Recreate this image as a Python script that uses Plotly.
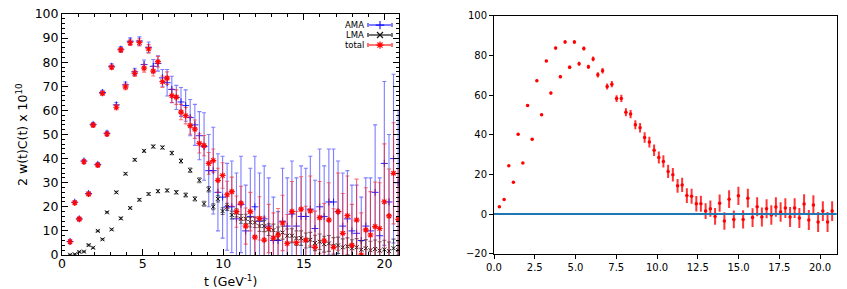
import plotly.graph_objects as go

# ---------------- data: left panel (AMA / LMA / total) ----------------
t_left = [0.50, 0.79, 1.07, 1.36, 1.65, 1.93, 2.22, 2.51, 2.79, 3.08, 3.37, 3.65,
          3.94, 4.23, 4.51, 4.80, 5.09, 5.37, 5.66, 5.95, 6.23, 6.52, 6.81, 7.09,
          7.38, 7.67, 7.95, 8.24, 8.52, 8.81, 9.10, 9.38, 9.67, 9.96, 10.24, 10.53,
          10.82, 11.10, 11.39, 11.68, 11.96, 12.25, 12.54, 12.82, 13.11, 13.40, 13.68, 13.97,
          14.26, 14.54, 14.83, 15.12, 15.40, 15.69, 15.98, 16.26, 16.55, 16.84, 17.12, 17.41,
          17.70, 17.98, 18.27, 18.56, 18.84, 19.13, 19.42, 19.70, 19.99, 20.28, 20.56, 20.85]

total_val = [5.5, 21.7, 14.9, 38.7, 25.3, 53.9, 37.3, 67.1, 50.2, 77.9, 61.3, 85.1,
             69.8, 88.1, 75.4, 88.2, 77.5, 85.5, 76.3, 80.2, 71.9, 73.4, 66.1, 65.5,
             59.3, 57.8, 53.7, 52.2, 46.3, 45.4, 38.0, 39.2, 31.0, 33.0, 25.0, 26.3,
             18.0, 21.5, 12.0, 18.0, 7.4, 15.2, 6.2, 11.0, 7.0, 8.3, 13.3, 4.8,
             18.0, 5.1, 19.0, 6.2, 18.3, 3.2, 15.5, 5.9, 14.5, 3.2, 18.0, 9.0,
             16.3, 4.0, 14.5, 0.0, 10.4, 8.3, 11.8, 11.0, 22.1, 16.2, 33.9, 14.8]
total_err = [0.8, 0.8, 0.8, 0.8, 0.8, 0.8, 0.8, 0.8, 0.8, 0.8, 1.0, 1.0,
             1.2, 1.2, 1.3, 1.5, 1.6, 1.8, 2.0, 2.2, 2.4, 2.6, 2.8, 3.0,
             3.2, 3.4, 3.6, 3.8, 4.0, 4.2, 4.5, 4.8, 5.0, 5.3, 5.6, 6.0,
             6.5, 7.0, 7.5, 8.0, 8.5, 9.0, 9.5, 10.0, 10.5, 11.0, 11.5, 12.0,
             12.5, 13.0, 13.5, 14.0, 14.5, 15.0, 15.0, 15.5, 15.5, 16.0, 16.0, 16.5,
             16.5, 17.0, 17.0, 17.5, 17.5, 18.0, 18.5, 19.0, 24.0, 19.5, 21.0, 21.0]

ama_val = [5.6, 21.9, 15.0, 39.0, 25.5, 54.2, 37.6, 67.4, 50.5, 78.3, 62.3, 85.4,
           70.6, 88.7, 76.0, 88.8, 79.0, 86.2, 78.3, 79.5, 73.5, 71.5, 68.7, 65.4,
           63.5, 62.0, 57.0, 54.0, 49.5, 45.0, 35.0, 35.0, 26.0, 24.0, 20.0, 20.0,
           15.0, 21.0, 10.0, 16.0, 20.0, 14.0, 15.0, 12.0, 6.0, 6.0, 14.0, 12.0,
           17.0, 12.0, 16.0, 16.0, 19.0, 11.0, 20.0, 16.0, 22.0, 22.0, 18.0, 12.0,
           15.0, 10.0, 9.0, 6.0, 12.0, 10.0, 26.0, 8.0, 38.0, 22.0, 40.0, 30.0]
ama_err = [0.6, 0.6, 0.6, 0.7, 0.7, 0.8, 0.8, 0.9, 0.9, 1.0, 1.0, 1.1,
           1.2, 1.4, 1.5, 1.7, 1.9, 2.2, 2.8, 3.2, 3.5, 5.5, 5.5, 5.0,
           6.0, 6.5, 7.5, 8.5, 10.0, 14.0, 15.0, 18.0, 16.0, 17.0, 18.0, 19.0,
           19.0, 20.0, 19.0, 20.0, 21.0, 20.0, 22.0, 20.0, 18.0, 12.0, 22.0, 20.0,
           22.0, 20.0, 21.0, 20.0, 22.0, 20.0, 24.0, 21.0, 22.0, 22.0, 21.0, 22.0,
           20.0, 19.0, 20.0, 18.0, 20.0, 22.0, 28.0, 24.0, 34.0, 28.0, 35.0, 30.0]

lma_val = [0.1, 0.3, 1.3, 1.4, 4.1, 3.0, 10.0, 6.5, 17.7, 10.6, 26.0, 15.2,
           33.7, 19.5, 39.5, 22.9, 43.2, 25.3, 45.0, 26.5, 44.6, 26.8, 42.3, 26.0,
           39.0, 24.9, 35.2, 23.3, 31.0, 21.3, 27.3, 20.0, 23.3, 18.2, 20.0, 16.6,
           17.5, 15.0, 15.0, 13.6, 13.5, 12.0, 12.0, 10.5, 10.3, 9.0, 9.3, 8.0,
           8.0, 7.0, 7.0, 6.0, 6.3, 5.0, 5.5, 4.5, 4.8, 3.8, 4.0, 3.2,
           3.6, 2.8, 3.2, 2.2, 2.8, 2.0, 2.5, 1.8, 2.3, 1.6, 2.8, 2.0]
lma_err = [0.2, 0.2, 0.2, 0.2, 0.3, 0.3, 0.3, 0.3, 0.3, 0.3, 0.4, 0.4,
           0.4, 0.4, 0.5, 0.5, 0.5, 0.5, 0.6, 0.6, 0.6, 0.6, 0.7, 0.7,
           0.8, 0.8, 0.9, 0.9, 1.0, 1.0, 1.1, 1.2, 1.3, 1.4, 1.5, 1.6,
           1.7, 1.8, 1.9, 2.0, 2.1, 2.2, 2.3, 2.4, 2.5, 2.6, 2.7, 2.8,
           2.9, 3.0, 3.0, 3.1, 3.1, 3.2, 3.2, 3.3, 3.3, 3.4, 3.4, 3.5,
           3.5, 3.5, 3.6, 3.6, 3.6, 3.7, 3.7, 3.7, 3.8, 3.8, 3.8, 3.8]

# ---------------- data: right panel ----------------
t_right = [0.33, 0.62, 0.91, 1.19, 1.48, 1.77, 2.06, 2.34, 2.63, 2.92, 3.21, 3.49,
           3.78, 4.07, 4.36, 4.64, 4.93, 5.22, 5.51, 5.79, 6.08, 6.37, 6.66, 6.94,
           7.23, 7.52, 7.81, 8.09, 8.38, 8.67, 8.96, 9.24, 9.53, 9.82, 10.11, 10.39,
           10.68, 10.97, 11.26, 11.54, 11.83, 12.12, 12.41, 12.69, 12.98, 13.27, 13.56, 13.84,
           14.13, 14.42, 14.71, 14.99, 15.28, 15.57, 15.86, 16.14, 16.43, 16.72, 17.01, 17.29,
           17.58, 17.87, 18.16, 18.44, 18.73, 19.02, 19.31, 19.59, 19.88, 20.17, 20.46, 20.74]
right_val = [3.7, 7.3, 24.3, 16.0, 40.2, 25.7, 54.7, 37.7, 67.2, 50.0, 77.2, 61.0,
             83.7, 69.2, 86.8, 74.0, 86.7, 75.8, 83.5, 74.2, 78.2, 70.2, 72.2, 64.3,
             65.5, 58.2, 58.3, 51.3, 50.4, 45.0, 43.5, 38.6, 36.3, 32.2, 28.5, 26.5,
             21.5, 19.8, 14.2, 14.7, 9.3, 9.0, 5.2, 5.2, 1.5, 2.7, -1.2, 5.5,
             -3.5, 7.5, -2.7, 9.2, -2.7, 8.0, -1.8, 3.7, -1.5, 2.7, -0.5, 3.5,
             1.0, 3.0, -1.5, 3.0, -2.0, 5.0, -3.0, 4.5, -4.0, 1.5, -4.0, 1.5]
right_err = [0.4, 0.4, 0.4, 0.4, 0.5, 0.5, 0.5, 0.5, 0.6, 0.6, 0.6, 0.7,
             0.7, 0.8, 0.8, 0.9, 0.9, 1.0, 1.0, 1.1, 1.2, 1.3, 1.4, 1.5,
             1.6, 1.7, 1.8, 2.0, 2.1, 2.3, 2.4, 2.6, 2.7, 2.9, 3.0, 3.1,
             3.3, 3.4, 3.5, 3.6, 3.7, 3.8, 3.9, 4.0, 4.0, 4.1, 4.2, 4.3,
             4.4, 4.5, 4.5, 4.6, 4.6, 4.7, 4.7, 4.8, 4.8, 4.8, 4.9, 4.9,
             4.9, 5.0, 5.0, 5.0, 5.0, 5.0, 5.0, 5.0, 5.0, 5.0, 5.0, 5.0]

legend_labels = ["AMA", "LMA", "total"]

for arr in (total_val, total_err, ama_val, ama_err, lma_val, lma_err):
    assert len(arr) == len(t_left), len(arr)
for arr in (right_val, right_err):
    assert len(arr) == len(t_right), len(arr)

# ---------------- layout helpers (pixel geometry) ----------------
W, H = 847, 289
def fx(p):
    return p / W
def fy(p):
    return 1 - p / H

FONT = "DejaVu Sans"
BLUE = "rgba(0,0,255,0.85)"
BLUE_E = "rgba(40,40,255,0.6)"
BLACK = "rgba(0,0,0,0.9)"
BLACK_E = "rgba(0,0,0,0.55)"
RED = "rgba(255,0,0,0.95)"
RED_E = "rgba(255,20,20,0.6)"

fig = go.Figure()

# AMA
fig.add_trace(go.Scatter(
    x=t_left, y=ama_val, mode="markers", xaxis="x", yaxis="y",
    marker=dict(symbol="cross-thin", size=5, color=BLUE, line=dict(color=BLUE, width=1)),
    error_y=dict(type="data", array=ama_err, color=BLUE_E, thickness=1.1, width=2),
))
# LMA
fig.add_trace(go.Scatter(
    x=t_left, y=lma_val, mode="markers", xaxis="x", yaxis="y",
    marker=dict(symbol="x-thin", size=4, color=BLACK, line=dict(color=BLACK, width=1)),
    error_y=dict(type="data", array=lma_err, color=BLACK_E, thickness=1.1, width=2),
))
# total
fig.add_trace(go.Scatter(
    x=t_left, y=total_val, mode="markers", xaxis="x", yaxis="y",
    marker=dict(symbol="asterisk", size=5, color=RED, line=dict(color=RED, width=1.2)),
    error_y=dict(type="data", array=total_err, color=RED_E, thickness=1.1, width=2),
))

# legend keys (hidden overlay axis, unit coordinates)
key_x = 0.9436
key_y = [0.954, 0.913, 0.871]
key_sym = ["cross-thin", "x-thin", "asterisk"]
key_col = [(BLUE, BLUE_E), (BLACK, BLACK_E), (RED, RED_E)]
for i in range(3):
    fig.add_trace(go.Scatter(
        x=[key_x], y=[key_y[i]], mode="markers", xaxis="x3", yaxis="y3",
        marker=dict(symbol=key_sym[i], size=6, color=key_col[i][0],
                    line=dict(color=key_col[i][0], width=1.2)),
        error_x=dict(type="data", array=[0.0356], color=key_col[i][1], thickness=2, width=2),
        hoverinfo="skip",
    ))
    fig.add_annotation(
        xref="paper", yref="paper", x=fx(366), y=fy(25 + 10 * i),
        xanchor="right", yanchor="middle", showarrow=False,
        text=legend_labels[i], font=dict(family=FONT, size=8.5, color="black"),
    )

# right panel
fig.add_trace(go.Scatter(
    x=t_right, y=right_val, mode="markers", xaxis="x2", yaxis="y2",
    marker=dict(color="#ff0000", size=3.5),
    error_y=dict(type="data", array=right_err, color="rgba(255,0,0,0.8)", thickness=2, width=0),
))
fig.add_shape(type="line", xref="x2 domain", yref="y2", x0=0, x1=1, y0=0, y1=0,
              line=dict(color="#1f77b4", width=2), layer="above")

left_axis_common = dict(
    showline=True, linecolor="black", linewidth=1, mirror="allticks",
    ticks="inside", ticklen=6, tickcolor="black", tickwidth=1,
    showgrid=False, zeroline=False,
    tickfont=dict(family=FONT, size=12.5, color="black"),
)
right_axis_common = dict(
    showline=True, linecolor="black", linewidth=1, mirror=True,
    ticks="outside", ticklen=4, tickcolor="black", tickwidth=1,
    showgrid=False, zeroline=False,
    tickfont=dict(family=FONT, size=10, color="black"),
)

fig.update_layout(
    width=W, height=H, margin=dict(l=0, r=0, t=0, b=0),
    paper_bgcolor="white", plot_bgcolor="rgba(0,0,0,0)",
    showlegend=False, template="none",
    xaxis=dict(domain=[fx(62), fx(399)], anchor="y", range=[0, 20.9],
               tickvals=[0, 5, 10, 15, 20], ticklabelstandoff=-3,
               minor=dict(dtick=1, ticks="inside", ticklen=3, tickcolor="black"),
               **left_axis_common),
    yaxis=dict(domain=[fy(255), fy(14)], anchor="x", range=[0, 100], dtick=10,
               minor=dict(dtick=2, ticks="inside", ticklen=3, tickcolor="black"),
               **left_axis_common),
    xaxis2=dict(domain=[fx(494), fx(836.7)], anchor="y2", range=[0, 21.02],
                dtick=2.5, tick0=0, tickformat=".1f", **right_axis_common),
    yaxis2=dict(domain=[fy(253.7), fy(15.7)], anchor="x2", range=[-20, 100],
                dtick=20, **right_axis_common),
    xaxis3=dict(overlaying="x", range=[0, 1], visible=False),
    yaxis3=dict(overlaying="y", range=[0, 1], visible=False),
)

fig.add_annotation(xref="paper", yref="paper", x=fx(22), y=fy(135),
                   text="2 w(t)C(t) x 10<sup>10</sup>", textangle=-90, showarrow=False,
                   xanchor="center", yanchor="middle",
                   font=dict(family=FONT, size=12.5, color="black"))
fig.add_annotation(xref="paper", yref="paper", x=fx(230), y=fy(280.5),
                   text="t (GeV<sup>-1</sup>)", showarrow=False,
                   xanchor="center", yanchor="middle",
                   font=dict(family=FONT, size=12.5, color="black"))

# remove the default 8px page margin so the figure sits at the window origin
fig.write_html("out.html",
               config={"displayModeBar": False, "staticPlot": True},
               post_script="document.body.style.margin='0';document.body.style.overflow='hidden';")
